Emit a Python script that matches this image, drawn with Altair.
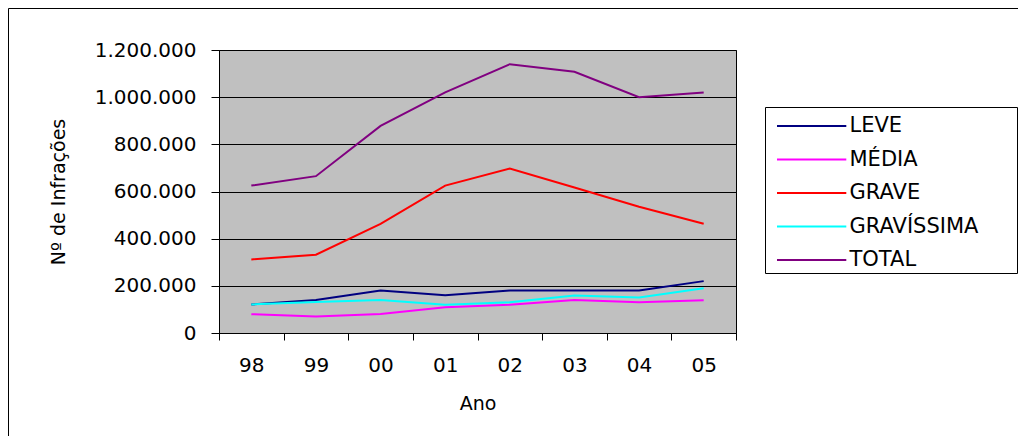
import altair as alt
import pandas as pd

anos = ["98", "99", "00", "01", "02", "03", "04", "05"]
series = ["LEVE", "MÉDIA", "GRAVE", "GRAVÍSSIMA", "TOTAL"]
cores = ["#000080", "#FF00FF", "#FF0000", "#00FFFF", "#800080"]

leve = [121000, 140000, 180000, 160000, 180000, 180000, 180000, 220000]
media = [80000, 70000, 81000, 109000, 120000, 140000, 130000, 139000]
grave = [312000, 332000, 463000, 625000, 697000, 617000, 535000, 463000]
gravissima = [121000, 131000, 140000, 120000, 130000, 159000, 151000, 190000]
total = [625000, 665000, 878000, 1020000, 1140000, 1108000, 1000000, 1020000]

y_ticks = [0, 200000, 400000, 600000, 800000, 1000000, 1200000]

valores = [leve, media, grave, gravissima, total]
rows = []
for nome, vals in zip(series, valores):
    for i, (a, v) in enumerate(zip(anos, vals)):
        rows.append({"Ano": a, "idx": i, "Tipo": nome, "Valor": v})
df = pd.DataFrame(rows)

FONT = "DejaVu Sans"

one = pd.DataFrame({"k": [0]})

# outer chart frame: top and left edges (decoration)
frame_top = alt.Chart(one).mark_rule(stroke="black", strokeWidth=1).encode(
    x=alt.value(-210.5), x2=alt.value(900), y=alt.value(-41.5)
)
frame_left = alt.Chart(one).mark_rule(stroke="black", strokeWidth=1).encode(
    x=alt.value(-210.5), y=alt.value(-41.5), y2=alt.value(600)
)

# legend box (decoration behind the legend entries)
legend_box = alt.Chart(one).mark_rect(
    fill="white", stroke="black", strokeWidth=1
).encode(
    x=alt.value(546.5), x2=alt.value(798.5),
    y=alt.value(57.5), y2=alt.value(223.5)
)

lines = alt.Chart(df).mark_line(strokeWidth=2).encode(
    x=alt.X("Ano:N", sort=anos,
            scale=alt.Scale(type="band", paddingInner=0, paddingOuter=0),
            axis=alt.Axis(title="Ano", labelAngle=0, tickBand="extent",
                          tickSize=7, labelPadding=15, labelFont=FONT,
                          labelFontSize=20, labelColor="black",
                          domainColor="black", tickColor="black", grid=False,
                          titleFont=FONT, titleFontSize=19, titleFontWeight="normal",
                          titleColor="black", titleY=76, titleBaseline="alphabetic")),
    y=alt.Y("Valor:Q",
            scale=alt.Scale(domain=[0, 1200000], nice=False),
            axis=alt.Axis(title="Nº de Infrações", values=y_ticks,
                          labelExpr="replace(replace(format(datum.value, ','), ',', '.'), ',', '.')",
                          tickSize=8, labelPadding=15, labelFont=FONT,
                          labelFontSize=20, labelColor="black",
                          domainColor="black", tickColor="black",
                          gridColor="black", gridWidth=1, gridOpacity=1,
                          titleFont=FONT, titleFontSize=19, titleFontWeight="normal",
                          titleColor="black", titleX=-151, titleY=141.5,
                          titleBaseline="bottom")),
    color=alt.Color("Tipo:N", sort=series,
                    scale=alt.Scale(domain=series, range=cores),
                    legend=alt.Legend(title=None, orient="none",
                                      legendX=546, legendY=58.5,
                                      symbolType="M-0.5,0H5.8", symbolSize=484,
                                      symbolStrokeWidth=2, labelOffset=55,
                                      labelFont=FONT, labelFontSize=21,
                                      labelColor="black", labelLimit=400,
                                      rowPadding=11.5, padding=5.5)),
    order=alt.Order("idx:Q")
)

chart = alt.layer(frame_top, frame_left, legend_box, lines).properties(
    width=517, height=283,
    autosize=alt.AutoSizeParams(type="none"),
    padding={"left": 211, "top": 42, "right": 282, "bottom": 103},
    background="white"
).configure_view(
    fill="#C0C0C0", stroke="black", strokeWidth=1
)

chart.save("out.html", embed_options={"renderer": "svg", "actions": False})
